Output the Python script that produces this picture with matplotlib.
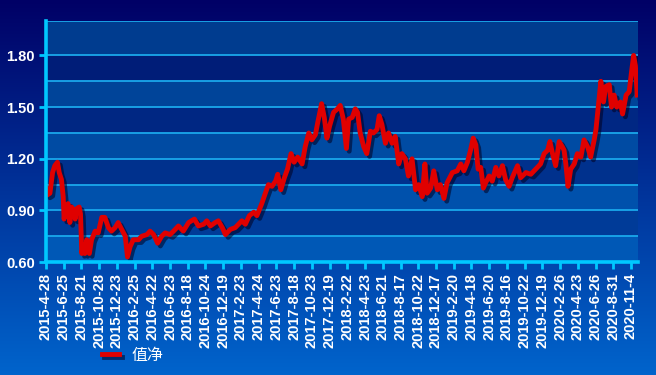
import numpy as np
import matplotlib.pyplot as plt
import matplotlib.patheffects as pe
from matplotlib.colors import to_rgb

# x axis is a trading-day index, one tick label every 40 trading days
tick_labels = [
    "2015-4-28", "2015-6-25", "2015-8-21", "2015-10-28", "2015-12-23",
    "2016-2-25", "2016-4-22", "2016-6-23", "2016-8-18", "2016-10-24",
    "2016-12-19", "2017-2-23", "2017-4-24", "2017-6-23", "2017-8-18",
    "2017-10-23", "2017-12-19", "2018-2-22", "2018-4-23", "2018-6-21",
    "2018-8-17", "2018-10-22", "2018-12-17", "2019-2-20", "2019-4-18",
    "2019-6-20", "2019-8-16", "2019-10-22", "2019-12-19", "2020-2-26",
    "2020-4-23", "2020-6-26", "2020-8-31", "2020-11-4",
]
tick_step = 40

days = [
    0, 3, 9, 15, 20, 26, 30, 35, 39, 41, 45, 50, 54, 58, 62, 66, 69, 75, 78,
    81, 84, 88, 92, 98, 103, 111, 118, 126, 133, 141, 148, 156, 163, 171,
    179, 184, 190, 197, 209, 216, 228, 235, 243, 252, 261, 269, 280, 288,
    299, 310, 322, 335, 344, 356, 363, 371, 382, 389, 398, 405, 416, 427,
    442, 450, 459, 469, 476, 487, 495, 502, 510, 518, 523, 530, 538, 545,
    553, 560, 568, 578, 585, 593, 600, 608, 614, 622, 628, 634, 640, 649,
    658, 664, 671, 678, 683, 691, 698, 703, 709, 717, 724, 732, 739, 747,
    752, 758, 766, 773, 781, 788, 796, 803, 811, 818, 826, 834, 841, 849,
    855, 860, 868, 875, 883, 890, 898, 905, 917, 928, 936, 943, 951, 958,
    964, 970, 975, 981, 987, 992, 1000, 1007, 1015, 1022, 1030, 1037, 1045,
    1052, 1064, 1071, 1083, 1094, 1105, 1116, 1124, 1132, 1137, 1143, 1150,
    1158, 1165, 1169, 1173, 1178, 1184, 1192, 1199, 1207, 1214, 1222, 1229,
    1237, 1241, 1246, 1252, 1258, 1263, 1271, 1276, 1282, 1288, 1296, 1301,
    1309, 1316, 1321, 1326, 1330, 1334,
]
nav = [
    1.03, 0.99, 1.00, 1.12, 1.16, 1.18, 1.12, 1.08, 0.98, 0.85, 0.92, 0.94,
    0.83, 0.92, 0.90, 0.85, 0.91, 0.92, 0.88, 0.65, 0.70, 0.65, 0.73, 0.65,
    0.73, 0.78, 0.77, 0.86, 0.86, 0.80, 0.78, 0.80, 0.83, 0.79, 0.75, 0.63,
    0.69, 0.73, 0.73, 0.75, 0.76, 0.78, 0.76, 0.71, 0.75, 0.77, 0.76, 0.78,
    0.81, 0.78, 0.83, 0.85, 0.81, 0.82, 0.84, 0.81, 0.83, 0.84, 0.80, 0.76,
    0.79, 0.80, 0.84, 0.82, 0.87, 0.89, 0.87, 0.94, 1.00, 1.05, 1.04, 1.07,
    1.11, 1.02, 1.09, 1.14, 1.23, 1.18, 1.21, 1.17, 1.27, 1.35, 1.31, 1.34,
    1.42, 1.52, 1.44, 1.32, 1.39, 1.47, 1.49, 1.51, 1.43, 1.26, 1.43, 1.44,
    1.49, 1.47, 1.35, 1.27, 1.23, 1.36, 1.35, 1.37, 1.45, 1.40, 1.29, 1.35,
    1.29, 1.33, 1.17, 1.23, 1.20, 1.10, 1.20, 1.02, 1.05, 0.98, 1.17, 1.00,
    1.03, 1.13, 1.02, 1.05, 0.97, 1.06, 1.12, 1.13, 1.17, 1.13, 1.18, 1.25,
    1.32, 1.28, 1.14, 1.15, 1.03, 1.06, 1.10, 1.07, 1.15, 1.10, 1.16, 1.08,
    1.04, 1.09, 1.16, 1.09, 1.12, 1.11, 1.14, 1.17, 1.23, 1.25, 1.30, 1.23,
    1.16, 1.30, 1.27, 1.25, 1.17, 1.04, 1.14, 1.17, 1.23, 1.21, 1.31, 1.27,
    1.21, 1.31, 1.37, 1.50, 1.65, 1.53, 1.62, 1.63, 1.50, 1.57, 1.50, 1.53,
    1.46, 1.57, 1.59, 1.70, 1.80, 1.74, 1.57,
]
series_name = "值净"

y_min, y_max = 0.60, 2.00
y_ticks = [0.60, 0.90, 1.20, 1.50, 1.80]
band_step = 0.15

plt.rcParams['font.family'] = ['Liberation Sans Narrow', 'Liberation Sans', 'DejaVu Sans']

fig = plt.figure(figsize=(6.56, 3.75), dpi=100)

# figure background: vertical gradient dark navy -> blue
bg = fig.add_axes([0, 0, 1, 1], zorder=-10)
top_c = np.array(to_rgb("#000066"))
bot_c = np.array(to_rgb("#0064CC"))
t = np.linspace(0, 1, 256)[:, None]
grad = top_c * (1 - t) + bot_c * t
bg.imshow(grad[:, None, :], aspect="auto", extent=[0, 1, 0, 1])
bg.axis("off")

ax = fig.add_axes([0.070, 0.301, 0.902, 0.643])
ax.patch.set_alpha(0)

# alternating horizontal bands, lighter towards the bottom
light_lo, light_hi = np.array(to_rgb("#005AB8")), np.array(to_rgb("#003A8C"))
dark_lo, dark_hi = np.array(to_rgb("#0042A0")), np.array(to_rgb("#00146E"))
edges = list(np.arange(y_min, 1.80 + 1e-9, band_step)) + [y_max]
for i in range(len(edges) - 1):
    lo, hi = edges[i], edges[i + 1]
    f = ((lo + hi) / 2 - y_min) / (y_max - y_min)
    if i % 2 == 0:
        c = light_lo * (1 - f) + light_hi * f
    else:
        c = dark_lo * (1 - f) + dark_hi * f
    ax.axhspan(lo, hi, color=c, lw=0, zorder=0)
    if i > 0:
        ax.axhline(lo, color="#1AA8EC", lw=1.3, zorder=1)
ax.axhline(y_max, color="#1AA8EC", lw=1.3, zorder=1)

shadow = [pe.SimpleLineShadow(offset=(2, -2), shadow_color="#000020", alpha=0.55), pe.Normal()]
ax.plot(days, nav, color="#E00000", lw=3.5, solid_joinstyle="round",
        label=series_name, zorder=3, path_effects=shadow)

ax.set_xlim(0, 1335)
ax.set_ylim(y_min, y_max)
ax.set_yticks(y_ticks)
ax.set_yticklabels([f"{v:.2f}" for v in y_ticks])
ax.set_xticks([i * tick_step for i in range(len(tick_labels))])
ax.set_xticklabels(tick_labels, rotation=90)

for s in ["top", "right"]:
    ax.spines[s].set_visible(False)
for s in ["left", "bottom"]:
    ax.spines[s].set_color("#00C8FF")
    ax.spines[s].set_linewidth(2.6)
    ax.spines[s].set_zorder(4)
ax.tick_params(axis="both", colors="#00C8FF", width=2, length=5, labelcolor="white",
               labelsize=10.5, pad=3)
for lab in ax.get_xticklabels() + ax.get_yticklabels():
    lab.set_fontweight("bold")

leg = fig.legend(loc="center left", bbox_to_anchor=(0.133, 0.053), frameon=False,
                 handlelength=1.1, handletextpad=0.75,
                 prop={"family": ["Noto Sans CJK SC", "DejaVu Sans"], "size": 11.5})
for txt in leg.get_texts():
    txt.set_color("white")

fig.savefig("out.png", dpi=100)
